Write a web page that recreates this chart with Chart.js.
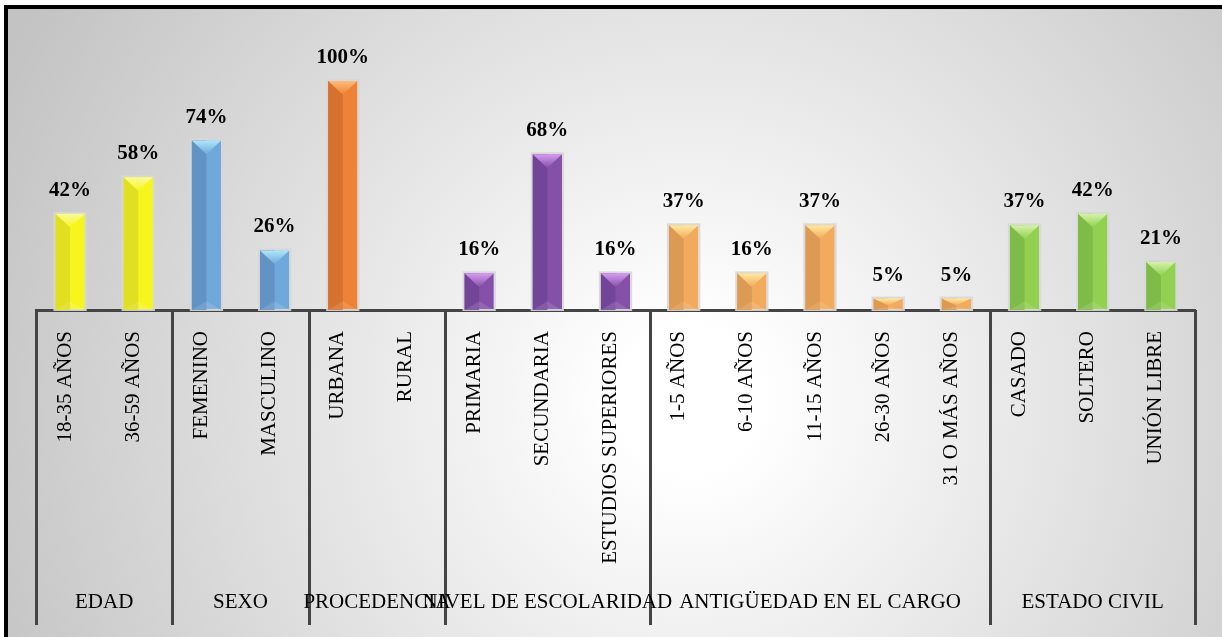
<!DOCTYPE html>
<html>
<head>
<meta charset="utf-8">
<script src="https://cdn.jsdelivr.net/npm/chart.js@4.4.0/dist/chart.umd.min.js"></script>
<style>
  html, body { margin: 0; padding: 0; background: #fff; overflow: hidden; }
  #frame {
    position: absolute; left: 4px; top: 5px;
    width: 1214px; height: 628px;
    border-left: 4px solid #000; border-top: 4px solid #000;
    background: radial-gradient(circle at 682px 391px, #ffffff 0px, #ffffff 70px, #e8e8e8 330px, #c3c3c3 760px);
  }
  #myChart { display: block; }
</style>
</head>
<body>
<div id="frame"><canvas id="myChart" width="1214" height="628"></canvas></div>
<script>
// ---- data ----
const categories = [
  '18-35 AÑOS', '36-59 AÑOS',
  'FEMENINO', 'MASCULINO',
  'URBANA', 'RURAL',
  'PRIMARIA', 'SECUNDARIA', 'ESTUDIOS SUPERIORES',
  '1-5 AÑOS', '6-10 AÑOS', '11-15 AÑOS', '26-30 AÑOS', '31 O MÁS AÑOS',
  'CASADO', 'SOLTERO', 'UNIÓN LIBRE'
];
const values = [42, 58, 74, 26, 100, 0, 16, 68, 16, 37, 16, 37, 5, 5, 37, 42, 21];
const groupNames = ['EDAD', 'SEXO', 'PROCEDENCIA', 'NIVEL DE ESCOLARIDAD', 'ANTIGÜEDAD EN EL CARGO', 'ESTADO CIVIL'];
const groupSizes = [2, 2, 2, 3, 5, 3];

// colours per group: main face, shaded left face, light top bevel
const palette = [
  { main: '#f6f61e', dark: '#e0df22', top: '#fafa9a' },
  { main: '#70a8dc', dark: '#6193c4', top: '#aee6f8' },
  { main: '#ee8236', dark: '#d6712f', top: '#fcbc7c' },
  { main: '#8450a8', dark: '#734599', top: '#d79cf2' },
  { main: '#f2aa5c', dark: '#dc9a54', top: '#ffe9a2' },
  { main: '#92d050', dark: '#7fbb48', top: '#d6f2aa' }
];

const groupOf = [];
groupSizes.forEach((n, g) => { for (let k = 0; k < n; k++) groupOf.push(g); });

const FONT = '"Liberation Serif", "Times New Roman", serif';

// 3D-looking bars + value labels on top
const bevelBars = {
  id: 'bevelBars',
  afterDatasetsDraw(chart) {
    const ctx = chart.ctx;
    const meta = chart.getDatasetMeta(0);
    ctx.save();
    meta.data.forEach((bar, i) => {
      if (values[i] <= 0) return;
      const { x, y, base, width } = bar.getProps(['x', 'y', 'base', 'width'], true);
      const c = palette[groupOf[i]];
      const l = x - width / 2, r = x + width / 2, h = base - y;

      // soft light edge round the bar
      ctx.strokeStyle = 'rgba(215,215,215,0.9)';
      ctx.lineWidth = 2;
      ctx.strokeRect(l - 1, y - 1, width + 2, h + 1);

      // shaded left half
      ctx.fillStyle = c.dark;
      ctx.fillRect(l, y, width / 2, h);

      // bottom bevel
      const db = Math.min(width * 0.3, h * 0.3);
      ctx.fillStyle = 'rgba(255,255,255,0.12)';
      ctx.beginPath();
      ctx.moveTo(l, base); ctx.lineTo(r, base); ctx.lineTo(x, base - db); ctx.closePath();
      ctx.fill();

      // top chevron
      const d = Math.min(width * 0.47, h * 0.6);
      const g = ctx.createLinearGradient(0, y, 0, y + d);
      g.addColorStop(0, c.top);
      g.addColorStop(1, c.main);
      ctx.fillStyle = g;
      ctx.beginPath();
      ctx.moveTo(l, y); ctx.lineTo(r, y); ctx.lineTo(x, y + d); ctx.closePath();
      ctx.fill();

      // value label
      ctx.fillStyle = '#000';
      ctx.font = 'bold 21px ' + FONT;
      ctx.textAlign = 'center';
      ctx.textBaseline = 'alphabetic';
      ctx.fillText(values[i] + '%', x, y - 18);
    });
    ctx.restore();
  }
};

// group dividers under the axis and group names
const groupAxis = {
  id: 'groupAxis',
  afterDraw(chart) {
    const ctx = chart.ctx;
    const xs = chart.scales.x;
    const area = chart.chartArea;
    const edges = [area.left];
    let idx = 0;
    groupSizes.forEach((n, g) => {
      idx += n;
      if (idx >= categories.length) edges.push(area.right);
      else edges.push((xs.getPixelForTick(idx - 1) + xs.getPixelForTick(idx)) / 2);
    });
    ctx.save();
    ctx.strokeStyle = '#444';
    ctx.lineWidth = 3;
    edges.forEach(ex => {
      ctx.beginPath();
      ctx.moveTo(Math.round(ex) + 0.5, area.bottom);
      ctx.lineTo(Math.round(ex) + 0.5, 616);
      ctx.stroke();
    });
    ctx.fillStyle = '#000';
    ctx.font = '21px ' + FONT;
    ctx.textAlign = 'center';
    ctx.textBaseline = 'middle';
    groupNames.forEach((name, g) => {
      ctx.fillText(name, (edges[g] + edges[g + 1]) / 2, 593);
    });
    ctx.restore();
  }
};

const ctx = document.getElementById('myChart');

new Chart(ctx, {
  type: 'bar',
  data: {
    labels: categories,
    datasets: [{
      data: values,
      backgroundColor: groupOf.map(g => palette[g].main),
      borderWidth: 0,
      barPercentage: 0.43,
      categoryPercentage: 1
    }]
  },
  options: {
    responsive: false,
    animation: false,
    layout: { padding: { left: 28, right: 27, top: 72, bottom: 0 } },
    plugins: {
      legend: { display: false },
      tooltip: { enabled: false }
    },
    scales: {
      y: { display: false, min: 0, max: 100 },
      x: {
        afterFit(scale) { scale.height = 327; },
        grid: { display: false, drawTicks: false },
        border: { display: true, color: '#444', width: 3 },
        ticks: {
          autoSkip: false,
          minRotation: 90,
          maxRotation: 90,
          padding: 21,
          labelOffset: -5,
          color: '#000',
          font: { family: FONT, size: 21 }
        }
      }
    }
  },
  plugins: [bevelBars, groupAxis]
});
</script>
</body>
</html>
